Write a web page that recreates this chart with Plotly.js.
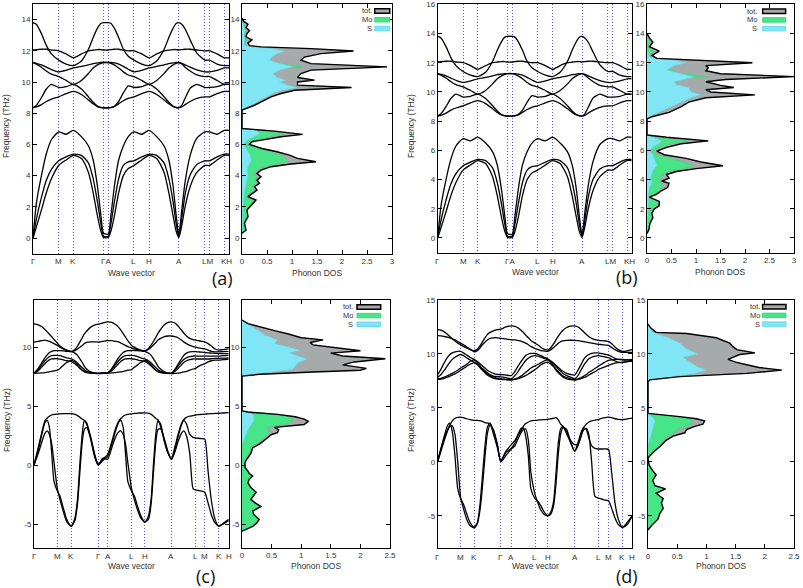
<!DOCTYPE html>
<html><head><meta charset="utf-8">
<script src="https://cdn.plot.ly/plotly-3.0.1.min.js"></script>
<style>html,body{margin:0;padding:0;background:#fff}#chart{width:803px;height:588px}</style>
</head><body><div id="chart"></div>
<script>
// ---------- k-point labels ----------
const kLabels = ['Γ','M','K','Γ','A','L','H','A','L','M','K','H'];
const kTicksAB = [0, 0.131, 0.206, 0.360, 0.384, 0.515, 0.592, 0.744, 0.877, 0.901, 0.976, 1];
const kTicksC  = [0, 0.120, 0.191, 0.330, 0.378, 0.501, 0.569, 0.706, 0.829, 0.877, 0.949, 1];
const kTicksD  = [0, 0.118, 0.187, 0.324, 0.378, 0.500, 0.565, 0.704, 0.824, 0.878, 0.949, 1];

// ---------- panels (a) and (b): k grid and bands ----------
const kAB = [0, 0.017, 0.043, 0.068, 0.094, 0.131,  0.169, 0.206,  0.247, 0.283, 0.307, 0.329, 0.346, 0.360,  0.384,
  0.398, 0.415, 0.437, 0.461, 0.486, 0.515,  0.555, 0.592,  0.631, 0.669, 0.693, 0.715, 0.730, 0.744,
  0.759, 0.776, 0.802, 0.836, 0.877,  0.901,  0.939, 0.976,  1.0];
const abA1 = [0, 2.2, 4.0, 5.4, 6.3, 6.8,  6.65, 6.9,  6.5, 5.9, 5.0, 3.3, 1.5, 0.3,  0.25,
  1.5, 3.3, 5.0, 5.9, 6.5, 6.8,  6.65, 6.9,  6.5, 5.9, 5.0, 3.3, 1.5, 0.2,
  1.8, 3.6, 5.3, 6.4, 6.8,  6.8,  6.65, 6.9,  6.9];
const abA2 = [0, 1.2, 2.6, 3.7, 4.4, 4.95,  5.2, 5.38,  5.3, 4.8, 3.8, 2.3, 0.95, 0.12,  0.12,
  0.95, 2.3, 3.8, 4.65, 4.88, 4.95,  5.2, 5.38,  5.3, 4.8, 3.8, 2.3, 0.95, 0.1,
  1.25, 2.8, 4.05, 4.72, 4.95,  4.95,  5.2, 5.38,  5.38];
const abA3 = [0, 0.7, 1.8, 2.9, 3.8, 4.65,  5.0, 5.3,  5.1, 4.2, 2.9, 1.4, 0.45, 0.03,  0.03,
  0.45, 1.4, 2.9, 4.0, 4.45, 4.65,  5.0, 5.3,  5.1, 4.2, 2.9, 1.4, 0.45, 0.03,
  0.8, 2.0, 3.3, 4.2, 4.65,  4.65,  5.0, 5.3,  5.3];
const abU1 = [13.8, 13.7, 13.1, 12.35, 11.8, 11.4,  11.15, 11.05,  11.35, 12.1, 12.85, 13.45, 13.75, 13.8,  13.8,
  13.75, 13.45, 12.85, 12.1, 11.65, 11.4,  11.15, 11.05,  11.35, 12.1, 12.85, 13.45, 13.75, 13.8,
  13.7, 13.4, 12.7, 11.85, 11.4,  11.4,  11.15, 11.05,  11.05];
const abU2 = [12.05, 12.08, 12.1, 12.1, 12.05, 12.0,  11.8, 11.55,  11.8, 12.0, 12.05, 12.08, 12.08, 12.05,  12.05,
  12.08, 12.1, 12.1, 12.05, 12.0, 12.0,  11.8, 11.55,  11.8, 12.0, 12.05, 12.08, 12.08, 12.05,
  12.08, 12.1, 12.1, 12.05, 12.0,  12.0,  11.8, 11.55,  11.55];
const abU3 = [11.25, 11.2, 11.1, 10.95, 10.8, 10.65,  10.75, 10.9,  11.0, 11.1, 11.18, 11.22, 11.25, 11.25,  11.25,
  11.25, 11.22, 11.15, 11.0, 10.82, 10.65,  10.75, 10.9,  11.0, 11.1, 11.18, 11.22, 11.25, 11.25,
  11.2, 11.1, 10.95, 10.78, 10.65,  10.65,  10.75, 10.9,  10.9];
const abU4 = [11.25, 11.15, 10.95, 10.7, 10.5, 10.35,  10.1, 9.85,  10.1, 10.55, 10.9, 11.1, 11.2, 11.25,  11.25,
  11.2, 11.1, 10.9, 10.65, 10.45, 10.35,  10.1, 9.85,  10.1, 10.55, 10.9, 11.1, 11.2, 11.25,
  11.15, 10.95, 10.7, 10.45, 10.35,  10.35,  10.1, 9.85,  9.85];
const abU5 = [8.35, 8.5, 9.0, 9.55, 9.85, 9.65,  9.7, 9.85,  9.55, 9.05, 8.7, 8.45, 8.37, 8.35,  8.35,
  8.37, 8.45, 8.75, 9.3, 9.75, 9.65,  9.7, 9.85,  9.55, 9.05, 8.7, 8.45, 8.37, 8.35,
  8.5, 8.95, 9.6, 9.85, 9.65,  9.65,  9.7, 9.85,  9.85];
const abU6 = [8.35, 8.4, 8.55, 8.75, 8.9, 9.05,  9.25, 9.4,  9.2, 8.85, 8.6, 8.42, 8.36, 8.35,  8.35,
  8.36, 8.42, 8.6, 8.8, 8.95, 9.05,  9.25, 9.4,  9.2, 8.85, 8.6, 8.42, 8.36, 8.35,
  8.4, 8.55, 8.75, 8.95, 9.05,  9.05,  9.25, 9.4,  9.4];

// ---------- panel (c) ----------
const kC = [0, 0.022, 0.039, 0.056, 0.068, 0.079, 0.091, 0.103, 0.120,  0.133, 0.150, 0.168, 0.191,
  0.210, 0.224, 0.236, 0.248, 0.258, 0.270, 0.291, 0.313, 0.330,  0.354, 0.378,
  0.400, 0.417, 0.434, 0.446, 0.458, 0.470, 0.482, 0.501,  0.515, 0.532, 0.549, 0.569,
  0.588, 0.602, 0.614, 0.626, 0.636, 0.650, 0.670, 0.689, 0.706,
  0.723, 0.740, 0.757, 0.769, 0.783, 0.800, 0.817, 0.829,  0.843, 0.860, 0.877,  0.894, 0.911, 0.930, 0.949,  0.971, 1.0];
const cL1 = [0, 1.5, 2.7, 3.75, 4.0, 4.15, 4.25, 4.3, 4.33,  4.35, 4.37, 4.37, 4.37,
  4.3, 4.2, 4.05, 3.9, 3.8, 3.5, 2.4, 0.8, 0.05,  0.5, 0.9,
  2.0, 3.0, 3.7, 3.95, 4.15, 4.25, 4.3, 4.35,  4.38, 4.4, 4.42, 4.43,
  4.4, 4.3, 4.15, 3.95, 3.85, 3.3, 2.0, 1.0, 0.5,
  1.5, 2.6, 3.5, 3.85, 4.05, 4.15, 4.2, 4.25,  4.28, 4.3, 4.32,  4.35, 4.37, 4.38, 4.4,  4.42, 4.45];
const cL2 = [0, 1.3, 2.5, 3.6, 3.8, 3.2, 1.0, -1.4, -2.2,  -2.6, -3.6, -4.6, -5.2,
  -4.5, -2.8, 0.2, 2.7, 3.75, 3.6, 2.2, 0.6, 0.0,  0.4, 0.75,
  1.8, 2.8, 3.6, 3.8, 3.2, 1.0, -1.4, -2.2,  -2.6, -3.5, -4.3, -4.85,
  -4.3, -2.8, 0.2, 2.7, 3.75, 3.5, 2.0, 1.0, 0.5,
  1.3, 2.4, 3.4, 3.8, 3.5, 2.6, 2.35, 2.3,  2.28, 2.25, 2.2,  -0.5, -3.0, -4.6, -5.2,  -5.0, -4.7];
const cL3 = [0, 1.0, 1.9, 2.7, 2.9, 2.6, 1.8, 0.2, -2.0,  -2.9, -3.9, -4.8, -5.15,
  -4.7, -3.2, -0.5, 2.0, 3.0, 3.2, 2.3, 0.8, 0.05,  0.6, 0.5,
  1.5, 2.3, 2.8, 2.9, 2.6, 1.8, 0.2, -2.0,  -2.9, -3.8, -4.5, -4.8,
  -4.6, -3.2, -0.5, 2.0, 3.0, 3.1, 2.2, 1.1, 0.5,
  1.1, 2.0, 2.7, 2.9, 2.5, 1.0, -2.0, -2.1,  -2.15, -2.2, -2.3,  -3.2, -4.2, -4.9, -5.15,  -4.95, -4.6];
const cT1 = [11.98, 11.9, 11.75, 11.5, 11.3, 11.1, 10.9, 10.65, 10.35,  10.1, 9.9, 9.75, 9.65,
  9.8, 10.1, 10.45, 10.8, 11.1, 11.35, 11.7, 11.9, 11.95,  12.05, 12.15,
  12.1, 11.95, 11.7, 11.45, 11.15, 10.85, 10.55, 10.15,  10.0, 9.85, 9.75, 9.7,
  9.9, 10.2, 10.5, 10.85, 11.15, 11.5, 11.9, 12.1, 12.15,
  12.05, 11.8, 11.45, 11.2, 10.95, 10.75, 10.65, 10.6,  10.55, 10.5, 10.45,  10.3, 10.1, 9.85, 9.75,  9.8, 9.85];
const cT2 = [10.43, 10.5, 10.55, 10.6, 10.55, 10.5, 10.4, 10.3, 10.15,  10.0, 9.85, 9.72, 9.62,
  9.7, 9.85, 10.0, 10.15, 10.3, 10.4, 10.45, 10.45, 10.43,  10.5, 10.55,
  10.55, 10.5, 10.45, 10.35, 10.25, 10.15, 10.05, 9.95,  9.85, 9.78, 9.72, 9.65,
  9.8, 10.0, 10.2, 10.4, 10.6, 10.75, 10.9, 10.95, 10.95,
  10.9, 10.8, 10.6, 10.45, 10.3, 10.15, 10.05, 10.0,  9.95, 9.9, 9.85,  9.75, 9.65, 9.6, 9.6,  9.62, 9.65];
const cB1 = [7.8, 8.2, 8.65, 9.1, 9.35, 9.55, 9.65, 9.7, 9.7,  9.7, 9.68, 9.65, 9.62,
  9.5, 9.3, 9.0, 8.7, 8.4, 8.15, 7.9, 7.8, 7.78,  7.8, 7.82,
  8.2, 8.65, 9.1, 9.35, 9.55, 9.65, 9.7, 9.72,  9.72, 9.7, 9.68, 9.65,
  9.5, 9.3, 9.0, 8.7, 8.4, 8.15, 7.9, 7.8, 7.78,
  8.1, 8.55, 9.0, 9.3, 9.5, 9.6, 9.62, 9.62,  9.6, 9.58, 9.55,  9.52, 9.5, 9.48, 9.45,  9.45, 9.45];
const cB2 = [7.8, 8.1, 8.5, 8.85, 9.05, 9.2, 9.28, 9.3, 9.3,  9.28, 9.2, 9.1, 9.0,
  8.85, 8.65, 8.45, 8.25, 8.1, 7.95, 7.85, 7.8, 7.78,  7.8, 7.82,
  8.1, 8.5, 8.85, 9.05, 9.2, 9.28, 9.3, 9.3,  9.28, 9.2, 9.1, 9.0,
  8.85, 8.65, 8.45, 8.25, 8.1, 7.95, 7.85, 7.8, 7.78,
  8.05, 8.4, 8.75, 8.95, 9.1, 9.2, 9.25, 9.25,  9.25, 9.25, 9.25,  9.25, 9.25, 9.25, 9.25,  9.28, 9.3];
const cB3 = [7.8, 8.0, 8.3, 8.6, 8.8, 8.92, 9.0, 9.02, 9.02,  8.98, 8.92, 8.85, 8.8,
  8.6, 8.4, 8.2, 8.05, 7.95, 7.88, 7.82, 7.8, 7.78,  7.8, 7.82,
  8.0, 8.3, 8.6, 8.8, 8.92, 9.0, 9.02, 9.02,  8.98, 8.92, 8.85, 8.8,
  8.6, 8.4, 8.2, 8.05, 7.95, 7.88, 7.82, 7.8, 7.78,
  7.95, 8.2, 8.5, 8.7, 8.85, 8.95, 9.0, 9.0,  9.0, 9.0, 9.0,  9.0, 9.02, 9.05, 9.05,  9.08, 9.1];
const cB4 = [7.78, 7.8, 7.82, 7.85, 7.88, 7.9, 7.95, 8.0, 8.05,  8.2, 8.45, 8.7, 8.85,
  8.75, 8.5, 8.25, 8.05, 7.92, 7.85, 7.8, 7.78, 7.75,  7.78, 7.8,
  7.82, 7.85, 7.88, 7.9, 7.95, 8.0, 8.05, 8.1,  8.3, 8.5, 8.7, 8.85,
  8.75, 8.5, 8.25, 8.05, 7.92, 7.85, 7.8, 7.78, 7.75,
  7.78, 7.8, 7.85, 7.9, 7.95, 8.05, 8.15, 8.2,  8.35, 8.5, 8.6,  8.75, 8.85, 8.9, 8.9,  8.95, 9.0];

// ---------- panel (d) ----------
const kD = [0, 0.017, 0.034, 0.051, 0.063, 0.075, 0.089, 0.103, 0.118,  0.132, 0.149, 0.166, 0.187,
  0.204, 0.217, 0.229, 0.243, 0.255, 0.269, 0.286, 0.307, 0.324,  0.351, 0.378,
  0.397, 0.414, 0.428, 0.440, 0.452, 0.466, 0.479, 0.500,  0.517, 0.531, 0.546, 0.565,
  0.582, 0.596, 0.608, 0.620, 0.632, 0.644, 0.663, 0.683, 0.704,
  0.721, 0.736, 0.750, 0.764, 0.777, 0.791, 0.808, 0.824,  0.837, 0.851, 0.865, 0.878,  0.894, 0.911, 0.928, 0.949,  0.974, 1.0];
const dL1 = [0.1, 1.2, 2.2, 3.0, 3.45, 3.8, 4.05, 4.12, 4.15,  4.1, 4.0, 3.92, 3.85,
  3.85, 3.82, 3.75, 3.65, 3.6, 3.55, 2.6, 1.3, 0.1,  1.0, 1.6,
  2.0, 2.5, 2.9, 3.3, 3.55, 3.7, 3.8, 3.85,  3.88, 3.9, 3.92, 3.94,
  4.0, 4.05, 4.1, 3.9, 3.5, 3.3, 2.6, 1.8, 1.0,
  1.8, 2.7, 3.2, 3.5, 3.7, 3.8, 3.88, 3.92,  4.0, 4.08, 4.12, 4.15,  4.1, 4.0, 3.95, 3.92,  3.98, 4.05];
const dL2 = [0.1, 1.3, 2.4, 3.4, 3.6, 2.8, 0.5, -2.5, -3.4,  -3.9, -4.8, -5.6, -6.05,
  -5.6, -4.0, -1.5, 1.5, 3.2, 3.6, 2.9, 1.5, 0.05,  0.9, 1.25,
  1.8, 2.6, 3.1, 3.15, 2.4, 0.5, -2.5, -3.4,  -3.7, -4.1, -4.6, -4.98,
  -4.6, -3.6, -1.0, 1.8, 3.1, 3.3, 2.8, 2.0, 1.6,
  1.65, 2.3, 3.15, 3.0, 2.2, 1.5, 1.25, 1.2,  1.2, 1.2, 1.2, 1.15,  -1.0, -3.8, -5.3, -6.05,  -5.8, -4.98];
const dL3 = [0, 1.0, 2.0, 2.9, 3.3, 3.35, 2.5, 0.0, -3.3,  -4.3, -5.3, -5.9, -6.1,
  -5.7, -4.5, -2.5, 0.5, 2.6, 3.4, 3.0, 1.6, 0.0,  0.6, 1.2,
  1.5, 2.2, 2.7, 3.0, 3.05, 2.0, -1.0, -3.0,  -3.9, -4.5, -4.85, -5.0,
  -4.8, -4.0, -2.0, 0.8, 2.6, 3.2, 3.0, 1.8, 1.0,
  1.5, 2.4, 2.95, 3.1, 2.5, 0.0, -3.2, -3.35,  -3.4, -3.5, -3.55, -3.6,  -4.3, -5.2, -5.8, -6.05,  -5.6, -4.98];
const dT1 = [12.25, 12.2, 12.05, 11.8, 11.6, 11.4, 11.2, 11.0, 10.85,  10.7, 10.55, 10.4, 10.3,
  10.45, 10.75, 11.1, 11.5, 11.8, 12.0, 12.15, 12.25, 12.3,  12.5, 12.6,
  12.55, 12.4, 12.2, 12.0, 11.75, 11.5, 11.25, 11.0,  10.8, 10.6, 10.45, 10.35,
  10.6, 10.95, 11.3, 11.65, 11.95, 12.2, 12.45, 12.58, 12.6,
  12.5, 12.3, 12.05, 11.8, 11.6, 11.45, 11.32, 11.26,  11.24, 11.22, 11.2, 11.17,  10.95, 10.65, 10.4, 10.25,  10.3, 10.4];
const dT2 = [11.7, 11.68, 11.62, 11.55, 11.5, 11.4, 11.3, 11.15, 11.0,  10.85, 10.65, 10.45, 10.2,
  10.3, 10.55, 10.85, 11.1, 11.3, 11.45, 11.5, 11.5, 11.45,  11.4, 11.32,
  11.3, 11.25, 11.2, 11.1, 11.0, 10.85, 10.7, 10.5,  10.4, 10.32, 10.28, 10.24,
  10.4, 10.6, 10.8, 11.0, 11.15, 11.22, 11.26, 11.27, 11.26,
  11.24, 11.2, 11.15, 11.1, 11.05, 11.0, 10.95, 10.9,  10.88, 10.85, 10.82, 10.8,  10.6, 10.4, 10.25, 10.15,  10.15, 10.15];
const dB1 = [8.1, 8.6, 9.2, 9.7, 9.95, 10.1, 10.2, 10.25, 10.25,  10.1, 9.9, 9.7, 9.5,
  9.3, 9.1, 8.9, 8.7, 8.5, 8.35, 8.2, 8.1, 8.1,  8.05, 8.0,
  8.4, 8.9, 9.3, 9.6, 9.85, 10.0, 10.05, 10.05,  9.95, 9.85, 9.7, 9.55,
  9.35, 9.15, 8.95, 8.75, 8.55, 8.4, 8.2, 8.1, 8.05,
  8.5, 9.0, 9.5, 9.8, 9.95, 10.05, 10.1, 10.1,  10.05, 10.0, 9.95, 9.9,  9.75, 9.6, 9.5, 9.45,  9.45, 9.5];
const dB2 = [7.85, 8.1, 8.5, 8.95, 9.25, 9.5, 9.7, 9.85, 9.95,  9.85, 9.65, 9.45, 9.25,
  9.05, 8.85, 8.65, 8.45, 8.25, 8.1, 7.95, 7.9, 7.88,  7.8, 7.7,
  8.0, 8.4, 8.8, 9.1, 9.4, 9.6, 9.75, 9.85,  9.8, 9.7, 9.6, 9.5,
  9.3, 9.1, 8.85, 8.6, 8.4, 8.2, 8.0, 7.85, 7.7,
  8.0, 8.5, 8.95, 9.3, 9.55, 9.7, 9.8, 9.85,  9.8, 9.75, 9.7, 9.65,  9.5, 9.35, 9.25, 9.2,  9.3, 9.35];
const dB3 = [7.7, 7.75, 7.85, 8.0, 8.1, 8.2, 8.35, 8.5, 8.7,  8.85, 9.05, 9.3, 9.45,
  9.2, 8.9, 8.6, 8.35, 8.15, 8.0, 7.85, 7.75, 7.7,  7.65, 7.6,
  7.7, 7.8, 7.95, 8.1, 8.3, 8.5, 8.7, 8.9,  9.05, 9.2, 9.35, 9.45,
  9.2, 8.9, 8.6, 8.35, 8.15, 7.95, 7.8, 7.7, 7.6,
  7.7, 7.8, 7.95, 8.1, 8.3, 8.45, 8.65, 8.85,  9.0, 9.15, 9.3, 9.4,  9.45, 9.48, 9.5, 9.5,  9.45, 9.4];
const dB4 = [7.65, 7.68, 7.75, 7.85, 7.95, 8.05, 8.15, 8.3, 8.5,  8.65, 8.85, 9.05, 9.2,
  9.0, 8.75, 8.5, 8.25, 8.05, 7.9, 7.75, 7.68, 7.65,  7.62, 7.6,
  7.65, 7.72, 7.8, 7.9, 8.0, 8.15, 8.3, 8.55,  8.8, 9.0, 9.15, 9.25,
  9.05, 8.8, 8.5, 8.25, 8.05, 7.85, 7.7, 7.62, 7.6,
  7.65, 7.72, 7.8, 7.9, 8.05, 8.2, 8.35, 8.55,  8.65, 8.75, 8.85, 8.95,  9.05, 9.15, 9.2, 9.25,  9.3, 9.35];

// ---------- phonon DOS (freq, dos) ----------
const aTotF = [0.3,0.5,0.95,1.37,1.79,2.11,2.43,2.65,3.07,3.29,3.5,3.71,3.93,4.14,4.35,4.57,4.74,4.89,5.1,5.31,5.53,5.74,6.0,6.17,6.32,6.49,6.64,6.85,7.02,8.2,8.51,8.83,9.05,9.26,9.47,9.65,9.8,10.0,10.12,10.29,10.54,10.76,10.97,11.18,11.4,11.6,11.82,11.99,12.14,12.25,12.33,12.5,12.7,12.9,13.1,13.3,13.5,13.7,13.9,14.1];
const aTotD = [0,0.08,0.05,0.12,0.1,0.2,0.28,0.12,0.3,0.25,0.35,0.3,0.38,0.3,0.38,0.58,0.98,1.48,1.11,0.95,0.7,0.4,0.15,0.2,0.45,0.78,1.21,0.65,0,0,0.25,0.45,0.58,0.78,1.05,2.19,1.11,1.11,1.45,1.11,1.18,1.38,2.9,1.38,1.18,1.25,1.58,2.23,1.38,0.38,0.15,0.12,0.2,0.08,0.1,0.15,0.08,0.12,0.03,0];
const aMoF = [0.3,0.5,0.95,1.4,1.8,2.1,2.4,2.6,2.8,3.1,3.3,3.5,3.7,3.9,4.1,4.35,4.55,4.75,4.9,5.1,5.3,5.5,5.75,5.95,6.1,6.3,6.5,6.65,6.85,7.0,8.2,9.0,10.0,10.5,10.8,10.97,11.15,11.3,11.5,11.8,12.0,12.3,12.6,13.0,13.5,14.0];
const aMoD = [0,0.06,0.04,0.1,0.08,0.16,0.22,0.08,0.12,0.25,0.2,0.3,0.25,0.3,0.22,0.3,0.45,0.75,0.92,0.88,0.78,0.6,0.3,0.1,0.12,0.3,0.55,0.85,0.5,0,0,0.05,0.1,0.3,0.6,1.21,0.8,0.65,0.45,0.2,0.1,0.03,0.08,0.05,0.06,0];
const aSF = [0.3,1.0,2.0,2.5,3.0,3.4,3.7,4.0,4.3,4.6,4.9,5.1,5.4,5.7,5.9,6.1,6.3,6.5,6.7,6.9,7.02,8.2,8.4,8.6,8.85,9.05,9.26,9.47,9.65,9.8,10.0,10.12,10.29,10.54,10.76,10.97,11.18,11.4,11.6,11.82,11.99,12.14,12.25,12.35,12.6,13.0,13.4,14.0];
const aSD = [0,0.01,0.02,0.03,0.05,0.08,0.1,0.12,0.1,0.12,0.18,0.18,0.15,0.1,0.05,0.05,0.12,0.25,0.35,0.3,0,0,0.12,0.22,0.38,0.5,0.6,0.8,1.1,0.9,0.75,0.88,0.7,0.62,0.75,1.02,0.75,0.55,0.6,0.7,0.85,0.6,0.2,0.05,0.05,0.04,0.05,0];

const bTotF = [0.3,0.6,1.0,1.4,1.7,2.0,2.2,2.5,2.8,3.0,3.25,3.45,3.75,3.9,4.1,4.35,4.55,4.75,4.95,5.2,5.45,5.7,5.95,6.2,6.45,6.65,6.9,7.05,8.15,8.3,8.6,9.0,9.3,9.6,9.8,10.0,10.15,10.3,10.45,10.7,10.85,11.05,11.25,11.45,11.65,11.8,12.0,12.2,12.3,12.5,12.8,13.1,13.4,13.7,14.0];
const bTotD = [0,0.04,0.06,0.12,0.1,0.15,0.25,0.25,0.05,0.2,0.3,0.42,0.45,0.3,0.45,0.4,0.6,1.0,1.55,1.1,0.8,0.35,0.2,0.4,0.7,1.25,0.4,0,0,0.1,0.45,0.7,0.85,1.2,2.2,1.3,1.2,1.77,1.5,1.2,1.6,3.0,1.5,1.2,1.25,1.2,2.15,1.0,0.2,0.1,0.25,0.05,0.12,0.05,0];
const bMoF = [0.3,0.6,1.0,1.4,1.7,2.0,2.2,2.5,2.8,3.0,3.4,3.7,4.0,4.3,4.55,4.75,4.95,5.2,5.45,5.7,5.95,6.2,6.45,6.65,6.8,7.0,8.15,9.0,10.0,10.5,10.9,11.05,11.3,11.5,11.8,12.0,12.3,12.6,12.85,13.1,13.5,14.0];
const bMoD = [0,0.03,0.05,0.1,0.08,0.12,0.22,0.2,0.02,0.15,0.3,0.3,0.25,0.3,0.45,0.75,0.95,0.75,0.5,0.2,0.1,0.25,0.5,0.85,0.4,0,0,0.05,0.1,0.3,0.5,1.22,0.6,0.5,0.25,0.1,0.03,0.08,0.12,0.03,0.05,0];
const bSF = [0.3,1.0,2.0,2.5,3.0,3.4,3.8,4.2,4.6,5.0,5.4,5.7,6.0,6.3,6.6,6.8,7.05,8.15,8.4,8.7,9.0,9.3,9.6,9.8,10.0,10.3,10.5,10.7,11.0,11.2,11.5,11.8,12.0,12.2,12.4,12.6,12.8,13.0];
const bSD = [0,0.01,0.02,0.02,0.03,0.05,0.1,0.08,0.12,0.2,0.15,0.12,0.05,0.15,0.3,0.2,0,0,0.1,0.3,0.5,0.7,0.9,1.1,0.9,0.85,0.6,0.55,0.95,0.75,0.4,0.55,0.8,0.5,0.05,0.03,0.02,0];

const cTotF = [-5.6,-5.5,-5.2,-4.9,-4.6,-4.2,-3.9,-3.5,-3.2,-2.9,-2.6,-2.3,-1.9,-1.5,-1.2,-0.93,-0.7,-0.5,-0.2,0.2,0.5,1.0,1.47,1.8,2.2,2.6,2.75,3.0,3.2,3.44,3.72,3.9,4.1,4.3,4.5,4.6,7.55,7.7,7.9,8.05,8.2,8.5,8.75,9.02,9.25,9.5,9.7,10.0,10.2,10.4,10.62,10.8,11.1,11.4,11.7,12.0,12.3];
const cTotD = [0,0.04,0.18,0.25,0.29,0.2,0.18,0.32,0.22,0.15,0.2,0.24,0.15,0.1,0.12,0.18,0.12,0.1,0.05,0.05,0.08,0.15,0.18,0.3,0.4,0.5,0.6,0.62,0.55,1.05,1.12,1.05,0.9,0.6,0.1,0,0,0.3,1.2,2.0,2.1,1.7,1.9,2.42,1.7,1.5,2.0,1.5,1.2,1.15,1.37,1.0,0.8,0.55,0.3,0.1,0];
const cMoF = [-5.6,-5.5,-5.2,-4.9,-4.6,-4.2,-3.9,-3.5,-3.2,-2.9,-2.6,-2.3,-1.9,-1.5,-1.2,-0.93,-0.7,-0.5,-0.2,0.2,0.5,1.0,1.5,2.0,2.5,2.75,3.0,3.2,3.44,3.72,4.0,4.3,4.5,4.6,7.55,9.0,10.5,12.3];
const cMoD = [0,0.04,0.18,0.25,0.29,0.2,0.18,0.32,0.22,0.15,0.2,0.24,0.15,0.1,0.12,0.18,0.12,0.1,0.05,0.04,0.05,0.12,0.15,0.3,0.4,0.45,0.45,0.42,0.7,0.85,0.85,0.6,0.1,0,0,0.1,0.08,0];
const cSF = [1.8,2.2,2.6,3.0,3.4,3.8,4.2,4.5,4.6,7.55,7.7,7.9,8.1,8.4,8.7,9.0,9.25,9.5,9.75,10.0,10.3,10.6,11.0,11.5,12.0,12.3];
const cSD = [0,0.03,0.06,0.1,0.15,0.2,0.2,0.12,0,0,0.15,0.5,0.85,0.9,0.95,1.1,0.95,0.8,0.97,0.8,0.55,0.6,0.4,0.25,0.1,0];

const dTotF = [-6.3,-5.9,-5.3,-4.8,-4.3,-3.8,-3.4,-2.9,-2.5,-2.2,-1.7,-1.2,-0.8,-0.3,0.3,0.5,1.0,1.5,2.0,2.4,2.7,3.0,3.3,3.5,3.8,4.0,4.2,4.4,4.5,7.4,7.6,7.9,8.2,8.5,8.75,9.0,9.25,9.5,9.75,9.95,10.1,10.4,10.7,11.0,11.5,11.9,12.0,12.4,12.76];
const dTotD = [0,0.06,0.17,0.2,0.26,0.23,0.26,0.14,0.3,0.12,0.08,0.14,0.08,0.02,0,0.02,0.11,0.22,0.31,0.43,0.63,0.66,0.8,0.94,0.97,0.83,0.54,0.2,0,0,0.03,0.54,1.69,2.29,1.9,1.69,1.5,1.37,1.5,1.57,1.83,1.52,1.45,1.4,1.17,0.66,0.14,0.05,0];
const dMoF = [-6.3,-5.9,-5.3,-4.8,-4.3,-3.8,-3.4,-2.9,-2.5,-2.2,-1.7,-1.2,-0.8,-0.3,0.3,0.5,1.0,1.5,2.0,2.4,2.7,3.0,3.3,3.5,3.8,4.0,4.2,4.4,4.5,7.4,9.0,10.5,12.76];
const dMoD = [0,0.06,0.17,0.2,0.26,0.23,0.26,0.14,0.3,0.12,0.08,0.14,0.08,0.02,0,0.02,0.1,0.2,0.25,0.35,0.45,0.5,0.65,0.75,0.75,0.7,0.45,0.15,0,0,0.05,0.05,0];
const dSF = [1.5,2.0,2.5,3.0,3.5,3.8,4.0,4.3,4.5,7.4,7.6,7.9,8.2,8.5,8.8,9.3,9.7,10.0,10.5,11.0,11.5,12.0,12.4,12.76];
const dSD = [0,0.03,0.05,0.08,0.1,0.12,0.1,0.05,0,0,0.05,0.45,0.8,1.0,0.85,0.7,0.6,0.85,0.65,0.55,0.35,0.08,0.03,0];

// ---------- build ----------
const W = 803, H = 588;
const FONT = 'Liberation Sans, Arial, sans-serif';
const TOT = '#a6aaaa', MO = '#48e488', SC = '#80e6f6', GRID = '#5a5af5';
const data = [];
function bands(k, list, xa, ya) {
  list.forEach(b => data.push({type:'scatter', mode:'lines', x:k, y:b, xaxis:xa, yaxis:ya,
    line:{color:'#000', width:1.3, shape:'spline', smoothing:0.6}, hoverinfo:'skip', showlegend:false}));
}
function dos(tf, td, mf, md, sf, sd, xa, ya) {
  const base = {type:'scatter', mode:'lines', xaxis:xa, yaxis:ya, fill:'tozerox', hoverinfo:'skip', showlegend:false};
  data.push(Object.assign({}, base, {x:td, y:tf, fillcolor:TOT, line:{color:TOT, width:0.5}}));
  data.push(Object.assign({}, base, {x:md, y:mf, fillcolor:MO, line:{color:'#3cd878', width:0.6}}));
  data.push(Object.assign({}, base, {x:sd, y:sf, fillcolor:SC, line:{color:'#6ad8ea', width:0.6}}));
  data.push({type:'scatter', mode:'lines', xaxis:xa, yaxis:ya, x:td, y:tf, line:{color:'#000', width:1.4}, hoverinfo:'skip', showlegend:false});
}
bands(kAB, [abA1, abA2, abA3, abU1, abU2, abU3, abU4, abU5, abU6], 'x', 'y');
dos(aTotF, aTotD, aMoF, aMoD, aSF, aSD, 'x2', 'y2');
bands(kAB, [abA1, abA2, abA3, abU1, abU2, abU3, abU4, abU5, abU6], 'x3', 'y3');
dos(bTotF, bTotD, bMoF, bMoD, bSF, bSD, 'x4', 'y4');
bands(kC, [cL1, cL2, cL3, cT1, cT2, cB1, cB2, cB3, cB4], 'x5', 'y5');
dos(cTotF, cTotD, cMoF, cMoD, cSF, cSD, 'x6', 'y6');
bands(kD, [dL1, dL2, dL3, dT1, dT2, dB1, dB2, dB3, dB4], 'x7', 'y7');
dos(dTotF, dTotD, dMoF, dMoD, dSF, dSD, 'x8', 'y8');

const tickfont = {family:FONT, size:8, color:'#333'};
function xd(a, b) { return [a / W, b / W]; }
function yd(a, b) { return [1 - b / H, 1 - a / H]; }
function dispX(dom, ticks, anchor) {
  return {domain:dom, anchor:anchor, range:[0,1], tickmode:'array', tickvals:ticks, ticktext:kLabels, showticklabels:false,
    showgrid:true, gridcolor:GRID, griddash:'1px,2px', gridwidth:1, ticks:'', showline:true, mirror:true,
    linecolor:'#000', linewidth:1, zeroline:false, tickfont:tickfont, automargin:false, fixedrange:true};
}
function yAx(dom, range, vals, anchor) {
  return {domain:dom, anchor:anchor, range:range, tickmode:'array', tickvals:vals, ticktext:vals.map(String),
    ticks:'inside', ticklen:4, tickcolor:'#000', showline:true, mirror:'allticks', linecolor:'#000', linewidth:1,
    showgrid:false, zeroline:false, tickfont:tickfont, automargin:false, fixedrange:true};
}
function dosX(dom, vals, anchor) {
  return {domain:dom, anchor:anchor, range:[0, vals[vals.length-1]], tickmode:'array', tickvals:vals, ticktext:vals.map(String),
    ticks:'inside', ticklen:4, tickcolor:'#000', showline:true, mirror:'allticks', linecolor:'#000', linewidth:1,
    showgrid:false, zeroline:false, tickfont:tickfont, automargin:false, fixedrange:true};
}
const yAB = [0,2,4,6,8,10,12,14], yB = [0,2,4,6,8,10,12,14,16], yC = [-5,0,5,10], yD = [-5,0,5,10,15];
const d3 = [0,0.5,1,1.5,2,2.5,3], d25 = [0,0.5,1,1.5,2,2.5];
const rowTop = yd(4, 253.6), rowTopB = yd(4.3, 252.6), rowBotC = yd(300, 547.7), rowBotD = yd(300, 548.3);

const layout = {
  width:W, height:H, margin:{l:0, r:0, t:0, b:0}, paper_bgcolor:'#fff', plot_bgcolor:'rgba(0,0,0,0)',
  showlegend:false, font:{family:FONT, size:8, color:'#333'},
  xaxis: dispX(xd(33, 229), kTicksAB, 'y'),   yaxis: yAx(rowTop, [-1, 15], yAB, 'x'),
  xaxis2: dosX(xd(242, 392), d3, 'y2'),       yaxis2: yAx(rowTop, [-1, 15], yAB, 'x2'),
  xaxis3: dispX(xd(437.7, 631.7), kTicksAB, 'y3'), yaxis3: yAx(rowTopB, [-1, 16], yB, 'x3'),
  xaxis4: dosX(xd(647, 794), d3, 'y4'),       yaxis4: yAx(rowTopB, [-1, 16], yB, 'x4'),
  xaxis5: dispX(xd(34, 228.7), kTicksC, 'y5'), yaxis5: yAx(rowBotC, [-7, 14], yC, 'x5'),
  xaxis6: dosX(xd(242, 390), d25, 'y6'),      yaxis6: yAx(rowBotC, [-7, 14], yC, 'x6'),
  xaxis7: dispX(xd(437.7, 632.3), kTicksD, 'y7'), yaxis7: yAx(rowBotD, [-8, 15], yD, 'x7'),
  xaxis8: dosX(xd(648, 794), d25, 'y8'),      yaxis8: yAx(rowBotD, [-8, 15], yD, 'x8'),
  shapes: [], annotations: []
};

// k-point labels under the dispersion panels; labels of coinciding points are joined ("ΓA", "LM", "KH")
function kAxisLabels(xa, ticks, py) {
  const groups = [];
  ticks.forEach((t, i) => {
    const g = groups[groups.length - 1];
    if (g && t - g.last < 0.03) { g.text += kLabels[i]; g.last = t; g.sum += t; g.n++; }
    else groups.push({text:kLabels[i], last:t, sum:t, n:1});
  });
  groups.forEach(g => layout.annotations.push({text:g.text, xref:xa, yref:'paper', x:g.sum / g.n, y:1 - py / H,
    xanchor:'center', yanchor:'middle', showarrow:false, font:{family:FONT, size:8, color:'#333'}}));
}
kAxisLabels('x', kTicksAB, 262);
kAxisLabels('x3', kTicksAB, 261);
kAxisLabels('x5', kTicksC, 556);
kAxisLabels('x7', kTicksD, 557);

// titles and panel labels
function ann(text, px, py, size, angle, color, family) {
  layout.annotations.push({text:text, xref:'paper', yref:'paper', x:px / W, y:1 - py / H, showarrow:false,
    xanchor:'center', yanchor:'middle', textangle:angle || 0, font:{family:family || FONT, size:size, color:color || '#333'}});
}
ann('Frequency (THz)', 6, 126, 8.5, -90);
ann('Frequency (THz)', 411, 126, 8.5, -90);
ann('Frequency (THz)', 7, 420, 8.5, -90);
ann('Frequency (THz)', 411, 420, 8.5, -90);
ann('Wave vector', 131, 273, 8.5);
ann('Wave vector', 535, 272, 8.5);
ann('Wave vector', 131, 566, 8.5);
ann('Wave vector', 535, 566, 8.5);
ann('Phonon DOS', 317, 273, 8.5);
ann('Phonon DOS', 720, 272, 8.5);
ann('Phonon DOS', 316, 566, 8.5);
ann('Phonon DOS', 721, 566, 8.5);
ann('(a)', 222, 278, 18, 0, '#111', 'Open Sans, ' + FONT);
ann('(b)', 627, 277, 18, 0, '#111', 'Open Sans, ' + FONT);
ann('(c)', 205, 576, 18, 0, '#111', 'Open Sans, ' + FONT);
ann('(d)', 627, 576, 18, 0, '#111', 'Open Sans, ' + FONT);

// DOS key (text then swatch, as in the original)
const keyNames = ['tot.', 'Mo', 'S'];
const keyFill = [TOT, MO, SC];
const keyLine = ['#000', '#3cd878', '#6ad8ea'];
function key(xa, ya, textRight, sx0, sx1, top) {
  [0, 1, 2].forEach(i => {
    const yc = top - i * 0.035;
    layout.shapes.push({type:'rect', xref:xa + ' domain', yref:ya + ' domain', x0:sx0, x1:sx1, y0:yc - 0.009, y1:yc + 0.009,
      fillcolor:keyFill[i], line:{color:keyLine[i], width:i === 0 ? 1.5 : 1}});
    layout.annotations.push({text:keyNames[i], xref:xa + ' domain', yref:ya + ' domain', x:textRight, y:yc, xanchor:'right', yanchor:'middle',
      showarrow:false, borderpad:0, font:{family:FONT, size:7.5, color:'#333'}});
  });
}
key('x2', 'y2', 0.875, 0.885, 0.985, 0.972);
key('x4', 'y4', 0.755, 0.787, 0.943, 0.972);
key('x6', 'y6', 0.757, 0.777, 0.937, 0.972);
key('x8', 'y8', 0.772, 0.785, 0.945, 0.973);

Plotly.newPlot('chart', data, layout, {staticPlot:true, displayModeBar:false});
</script></body></html>
